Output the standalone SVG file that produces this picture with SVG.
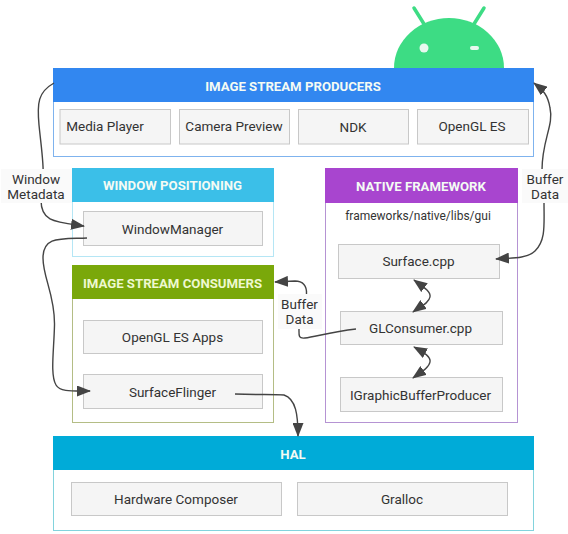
<svg xmlns="http://www.w3.org/2000/svg" width="568" height="534" viewBox="0 0 568 534">
<style>
text{font-family:Roboto,"Liberation Sans",sans-serif;text-anchor:middle}
.h{font-size:13.2px;font-weight:700;fill:#f4fbf4}
.t{font-size:13.5px;fill:#333}
.b{fill:#f5f5f5;stroke:#c8c8c8;stroke-width:1}
.c{fill:none;stroke:#444;stroke-width:1.4}
.l{fill:#fafafa}
</style>
<defs>
<marker id="a" viewBox="0 0 14 11" refX="13" refY="5.500" markerWidth="14" markerHeight="11" markerUnits="userSpaceOnUse" orient="auto-start-reverse"><path d="M0 0L14 5.500L0 11Z" fill="#444"/></marker>
</defs>
<g id="android">
<path d="M394 68A55 50 0 0 1 504 68Z" fill="#3ddc84"/>
<path d="M414 8L424 24M484 8L474 24" stroke="#3ddc84" stroke-width="3.500" stroke-linecap="round" fill="none"/>
<circle cx="424" cy="48" r="4.500" fill="#e8f8ef"/>
<rect x="470" y="46" width="9" height="4" rx="2" fill="#e8f8ef"/>
</g>
<g id="producers">
<rect x="53.500" y="68.500" width="480" height="88" fill="#fff" stroke="#7fb3ee"/>
<rect x="53" y="68" width="481" height="34" fill="#3287f0"/>
<text class="h" x="293" y="90.500">IMAGE STREAM PRODUCERS</text>
</g>
<g id="media-player"><rect class="b" x="60" y="109.500" width="110.500" height="34.500"/><text class="t" x="105" y="131">Media Player</text></g>
<g id="camera-preview"><rect class="b" x="179.500" y="109.500" width="110" height="34.500"/><text class="t" x="234" y="131">Camera Preview</text></g>
<g id="ndk"><rect class="b" x="298.500" y="109.500" width="110" height="34.500"/><text class="t" x="353" y="132">NDK</text></g>
<g id="opengl-es"><rect class="b" x="417.500" y="109.500" width="111" height="34.500"/><text class="t" x="472" y="131">OpenGL ES</text></g>
<g id="window-positioning">
<rect x="72.500" y="168.500" width="201" height="88" fill="#fff" stroke="#b5e6f5"/>
<rect x="72" y="168" width="202" height="34" fill="#3bbfe8"/>
<text class="h" x="172.500" y="190">WINDOW POSITIONING</text>
</g>
<g id="window-manager"><rect class="b" x="83.500" y="211.500" width="179" height="34"/><text class="t" x="172.500" y="234">WindowManager</text></g>
<g id="consumers">
<rect x="72.500" y="265.500" width="201" height="157" fill="#fff" stroke="#b4bd85"/>
<rect x="72" y="265" width="202" height="34" fill="#7aa80a"/>
<text class="h" x="172.500" y="288" style="fill:#eef8d0">IMAGE STREAM CONSUMERS</text>
</g>
<g id="opengl-es-apps"><rect class="b" x="83.500" y="320.500" width="179" height="33"/><text class="t" x="172.500" y="342">OpenGL ES Apps</text></g>
<g id="surface-flinger"><rect class="b" x="83.500" y="374.500" width="179" height="34"/><text class="t" x="172.500" y="397">SurfaceFlinger</text></g>
<g id="native-framework">
<rect x="325.500" y="168.500" width="192" height="254" fill="#fff" stroke="#b593d3"/>
<rect x="325" y="168" width="193" height="35" fill="#a845cf"/>
<text class="h" x="421" y="191">NATIVE FRAMEWORK</text>
<text class="t" x="418" y="220" style="font-size:12px">frameworks/native/libs/gui</text>
</g>
<g id="surface-cpp"><rect class="b" x="338.500" y="244.500" width="161" height="34"/><text class="t" x="418.500" y="266">Surface.cpp</text></g>
<g id="glconsumer-cpp"><rect class="b" x="340.500" y="311.500" width="162" height="33"/><text class="t" x="420.500" y="333">GLConsumer.cpp</text></g>
<g id="igbp"><rect class="b" x="340.500" y="377.500" width="162" height="34"/><text class="t" x="420.500" y="400">IGraphicBufferProducer</text></g>
<g id="hal">
<rect x="53.500" y="436.500" width="480" height="94" fill="#fff" stroke="#82d3dd"/>
<rect x="53" y="436" width="481" height="34" fill="#00abd8"/>
<text class="h" x="293" y="459">HAL</text>
</g>
<g id="hardware-composer"><rect class="b" x="71.500" y="482.500" width="210" height="33"/><text class="t" x="176" y="504">Hardware Composer</text></g>
<g id="gralloc"><rect class="b" x="297.500" y="482.500" width="210" height="33"/><text class="t" x="402" y="504">Gralloc</text></g>
<g id="connectors">
<path class="c" d="M54 83C38 92 37 103 39 125C41 145 44 165 43 175"/>
<path class="c" d="M41 200C41 222 55 222 84 226" marker-end="url(#a)"/>
<path class="c" d="M87 238C60 239 43 236 43 258C43 278 55 295 54.500 325C54 350 50 375 56 385C60 392 72 391 90 391" marker-end="url(#a)"/>
<path class="c" d="M542 170C542 140 554 125 550 108C548 95 543 90 534 83" marker-end="url(#a)"/>
<path class="c" d="M544 202C544 225 546 240 535 251C527 259 510 258 496 259" marker-end="url(#a)"/>
<path class="c" d="M356 329C330 332 315 337 305 338C298 339 299 335 299 329"/>
<path class="c" d="M306.500 294C307 286 303 281 295 281L275 282" marker-end="url(#a)"/>
<path class="c" d="M235 394C260 395 272 394 284 395C296 399 298 415 298 436" marker-end="url(#a)"/>
<path class="c" d="M414 280C425 288 431 292 430 297C429 303 420 307 413 312" marker-start="url(#a)" marker-end="url(#a)"/>
<path class="c" d="M414 347C425 353 431 357 430 362C429 368 420 373 413 378" marker-start="url(#a)" marker-end="url(#a)"/>
</g>
<g id="label-window-metadata"><rect class="l" x="1" y="169" width="71" height="34"/><text class="t" x="36" y="184">Window</text><text class="t" x="36" y="199">Metadata</text></g>
<g id="label-buffer-data-right"><rect class="l" x="522" y="169" width="46" height="34"/><text class="t" x="545" y="184">Buffer</text><text class="t" x="545" y="199">Data</text></g>
<g id="label-buffer-data-mid"><rect class="l" x="278" y="294" width="44" height="35"/><text class="t" x="299.500" y="309">Buffer</text><text class="t" x="299.500" y="324">Data</text></g>
</svg>
